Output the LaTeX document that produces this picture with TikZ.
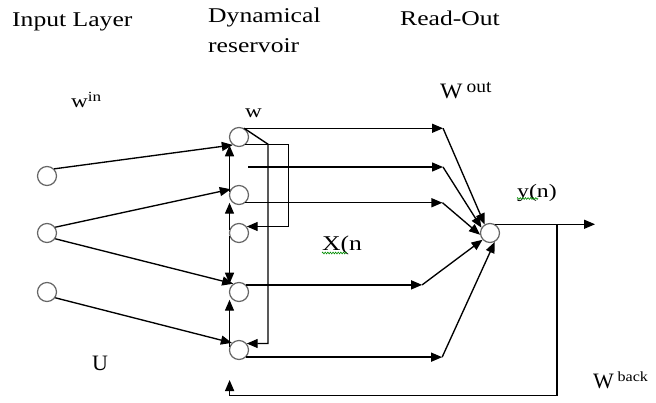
\documentclass[tikz,border=0pt]{standalone}
\usepackage{fontspec}
\setmainfont{Liberation Serif}
\usetikzlibrary{arrows.meta,decorations.pathmorphing}
\newcommand{\sx}[1]{\scalebox{1.22}[1]{#1}}
\newcommand{\fs}[1]{\fontsize{#1}{#1}\selectfont}
\begin{document}
\begin{tikzpicture}[x=1pt,y=-1pt,
  neuron/.style={circle,draw=black!60,line width=1.2pt,minimum size=19pt,inner sep=0pt},
  wire/.style={line width=1.35pt,black},
  arr/.style={wire,-{Triangle[length=11pt,width=9pt]}},
  lbl/.style={anchor=base west,inner sep=0pt,font=\fs{21}},
  squig/.style={green!55!black,line width=0.6pt,decorate,decoration={zigzag,amplitude=0.9pt,segment length=2.6pt}}]
\useasboundingbox (0,0) rectangle (656,402);

% neurons
\node[neuron] (i1) at (47,176) {};
\node[neuron] (i2) at (47,233) {};
\node[neuron] (i3) at (47,292) {};
\node[neuron] (r1) at (239,137) {};
\node[neuron] (r2) at (239,195) {};
\node[neuron] (r3) at (239,233) {};
\node[neuron] (r4) at (239,292) {};
\node[neuron] (r5) at (239,350) {};
\node[neuron] (o) at (490,233) {};

% input weights
\draw[arr] (i1.45) -- (r1.232);
\draw[arr] (i2.35) -- (r2.145);
\draw[arr] (i2.-35) -- (r4.125);
\draw[arr] (i3.-35) -- (r5.135);

% vertical links in the reservoir
\draw[arr] (r2.160) -- (r2.160 |- r1.235);
\draw[arr] (r3.160) -- (r3.160 |- r2.230);
\draw[arr] (r3.200) -- (r3.200 |- r4.125);
\draw[arr] (r5.160) -- (r5.160 |- r4.230);

% internal feedback loops
\draw[arr] (r1.60) -- ++(24,16) coordinate (j1) |- (r5.40);
\draw[arr] (r1.-50) -- ++(43,0) coordinate (k1) |- (r3.40);

% read-out
\coordinate (f0) at (248,167);
\draw[arr] (r1.60) -- ++(199,0) coordinate (c1);
\draw[arr] (c1) -- (o.122);
\draw[arr] (f0) -- ++(195,0) coordinate (c2);
\draw[arr] (c2) -- (o.148);
\draw[arr] (r2.-50) -- ++(197,0) coordinate (c3);
\draw[arr] (c3) -- (o.190);
\draw[arr] (r4.45) -- ++(176,0) coordinate (c4);
\draw[arr] (c4) -- (o.222);
\draw[arr] (r5.-45) -- ++(196,0) coordinate (c5);
\draw[arr] (c5) -- (o.-62);

% output and back-projection
\draw[arr] (o.60) -- ++(100,0) coordinate (yend);
\path (o.60) -- ++(62,0) coordinate (b);
\coordinate (fb) at (229.6,380);
\draw[arr] (b) -- ++(0,171) -| (fb);

% labels
\node[lbl] (tIn) at (12,26) {\sx{Input Layer}};
\node[lbl] (tDyn) at (208,22) {\sx{Dynamical}};
\node[lbl] (tRes) at (208,52) {\sx{reservoir}};
\node[lbl] (tRO) at (400,25) {\sx{Read-Out}};
\node[lbl,font=\fs{19}] (tWin) at (71,107) {\sx{w\raisebox{6pt}{\fs{14}in}}};
\node[lbl,font=\fs{19}] (tW) at (245,117) {\sx{w}};
\node[lbl,font=\fs{22}] (tWout) at (440,98) {\scalebox{1.08}[1]{W\,\raisebox{6pt}{\fs{18}out}}};
\node[lbl,font=\fs{19}] (tY) at (517,197) {\scalebox{1.25}[1]{y(n)}};
\node[lbl] (tX) at (322,250) {\sx{X(n}};
\node[lbl,font=\fs{22}] (tU) at (92,370) {U};
\node[lbl,font=\fs{22}] (tWb) at (593,388) {W\,\raisebox{7pt}{\fs{14}\scalebox{1.15}[1]{back}}};

% spell-check squiggles
\draw[squig] ([yshift=-1.5pt]tY.base west) -- ++(21,0);
\draw[squig] ([yshift=-3pt]tX.base west) -- ++(25,0);
\end{tikzpicture}
\end{document}
